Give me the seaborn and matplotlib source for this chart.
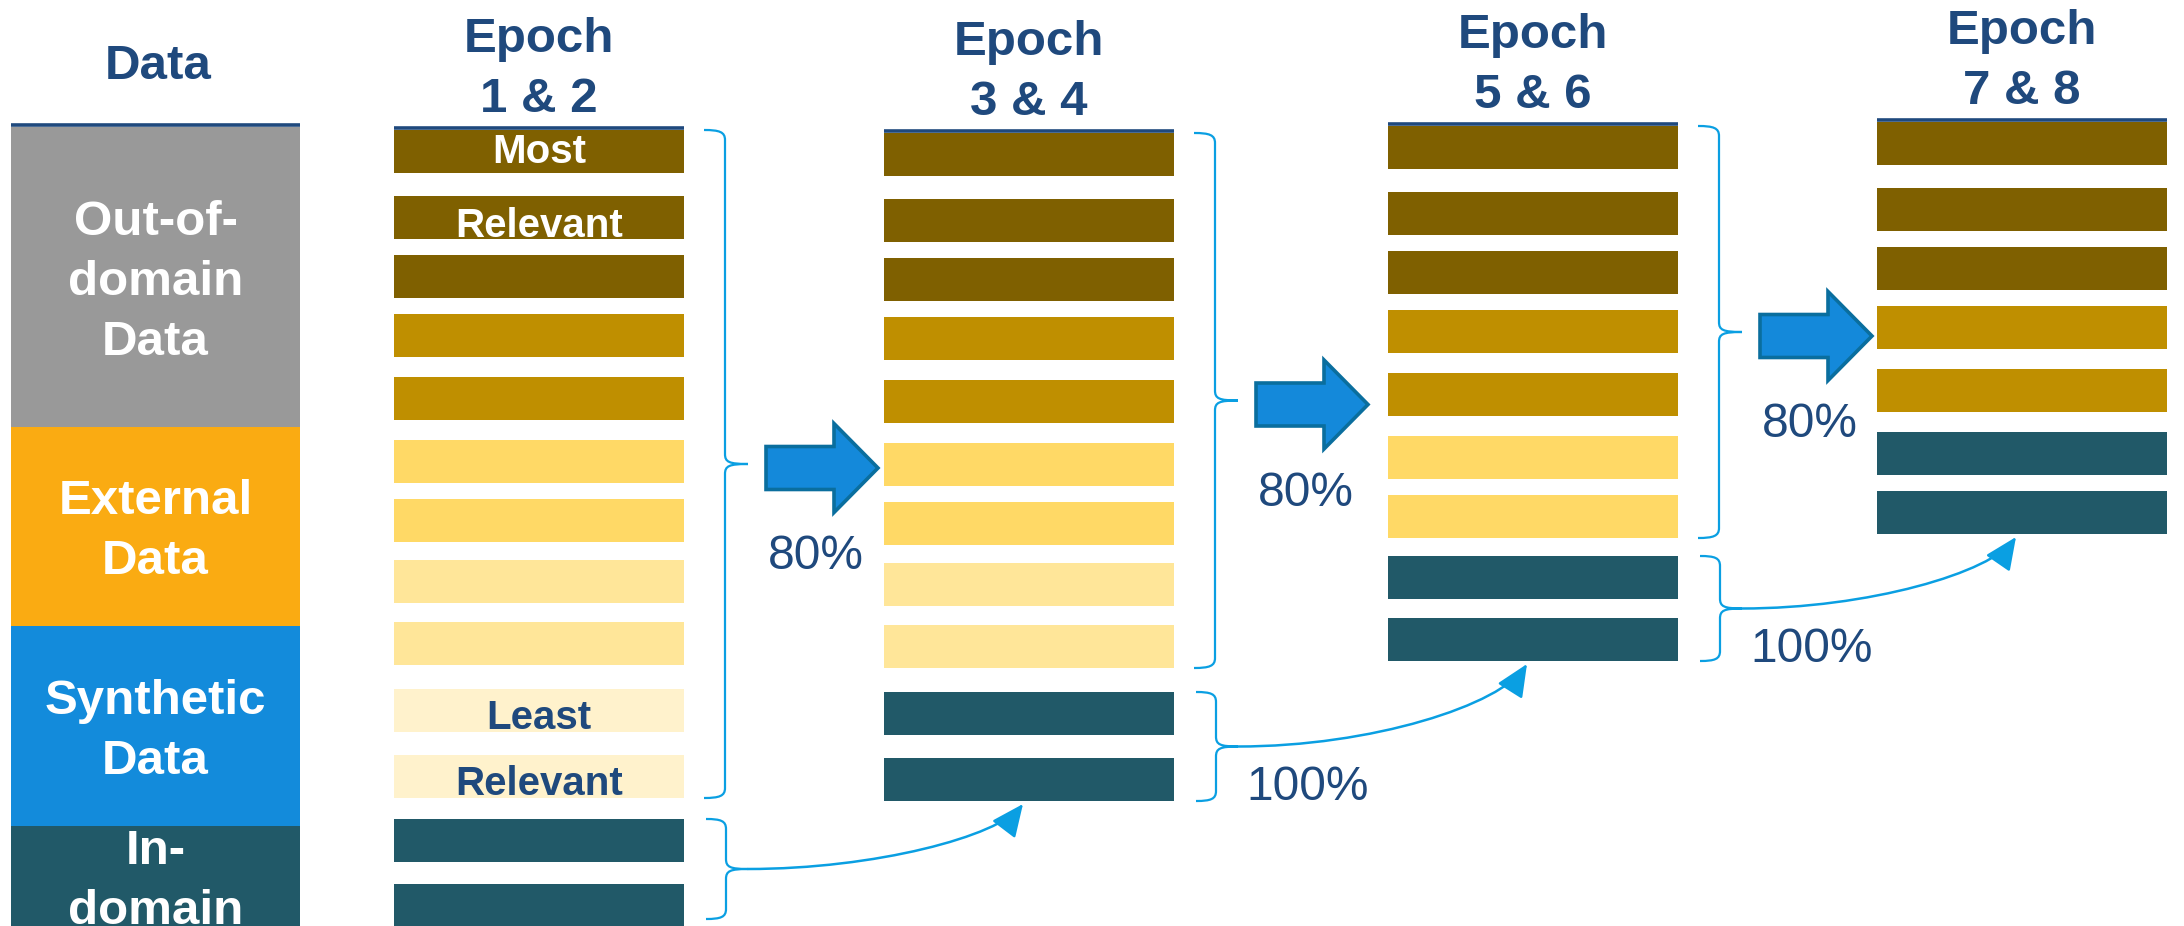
import matplotlib
matplotlib.use("Agg")
import matplotlib.pyplot as plt
import seaborn as sns
from matplotlib.path import Path
from matplotlib.patches import PathPatch, FancyArrowPatch, Polygon

# ---------------- data ----------------
source_names = ["Out-of-\ndomain\nData", "External\nData", "Synthetic\nData", "In-\ndomain"]
source_shares = [3, 2, 2, 1]
source_colors = ["#999999", "#FAAB12", "#138BDB", "#215968"]

# relevance tiers of the training chunks (0 = most relevant ... 4 = least, 5 = in-domain)
tier_colors = ["#7F6000", "#BF8F00", "#FFD966", "#FFE699", "#FFF2CC", "#215968"]

epoch_titles = ["1 & 2", "3 & 4", "5 & 6", "7 & 8"]
epoch_12 = [0, 0, 0, 1, 1, 2, 2, 3, 3, 4, 4, 5, 5]
epoch_34 = [0, 0, 0, 1, 1, 2, 2, 3, 3, 5, 5]
epoch_56 = [0, 0, 0, 1, 1, 2, 2, 5, 5]
epoch_78 = [0, 0, 0, 1, 1, 5, 5]
epoch_chunks = [epoch_12, epoch_34, epoch_56, epoch_78]

chunk_labels = {0: "Most", 1: "Relevant", 9: "Least", 10: "Relevant"}
kept_labels = ["80%", "80%", "80%"]
in_domain_labels = ["100%", "100%"]

# ---------------- layout ----------------
W, H = 2184, 926
NAVY = "#1F497D"
CYAN = "#0A9FE2"
ARROW_FILL = "#1489DA"
ARROW_EDGE = "#0A6E9E"

col_left = [394, 884, 1388, 1877]
col_top = [130, 133, 126, 122]
col_w = 290
bar_h = 43
slot_offsets = [0, 66, 125, 184, 247, 310, 369, 430, 492, 559, 625, 689, 754]
label_baseline = {0: 33, 1: 41, 9: 40, 10: 40}

data_left, data_w, data_top = 11, 289, 127
unit = (H - data_top) / sum(source_shares)
line_pitch = 60
cap_half = 18

sns.set_theme(style="white")
plt.rcParams["font.family"] = ["Liberation Sans", "DejaVu Sans"]
palette = sns.color_palette(tier_colors)

fig = plt.figure(figsize=(W / 100, H / 100), dpi=100)
ax = fig.add_axes([0, 0, 1, 1])
ax.set_xlim(0, W)
ax.set_ylim(H, 0)
ax.axis("off")

# ---- data source column ----
bottoms = [data_top]
for s in source_shares[:-1]:
    bottoms.append(bottoms[-1] + s * unit)
ax.bar([data_left + data_w / 2] * len(source_shares),
       [s * unit for s in source_shares], bottom=bottoms, width=data_w,
       color=source_colors, linewidth=0)
for name, b, s in zip(source_names, bottoms, source_shares):
    lines = name.split("\n")
    mid = b + s * unit / 2
    for i, ln in enumerate(lines):
        yc = mid + (i - (len(lines) - 1) / 2) * line_pitch
        ax.text(data_left + data_w / 2, yc + cap_half, ln, ha="center", va="baseline",
                color="white", fontsize=35.5, fontweight="bold")
ax.text(data_left + data_w / 2 + 3, data_top - 48, "Data", ha="center", va="baseline",
        color=NAVY, fontsize=35.5, fontweight="bold")
ax.plot([data_left, data_left + data_w], [data_top - 2.5] * 2, color=NAVY, lw=2.6,
        solid_capstyle="butt")

# ---- epoch columns ----
for e, chunks in enumerate(epoch_chunks):
    left, top = col_left[e], col_top[e]
    tops = [top + slot_offsets[i] for i in range(len(chunks))]
    ax.barh([t + bar_h / 2 for t in tops], [col_w] * len(chunks), left=left,
            height=bar_h, color=[palette[c] for c in chunks], linewidth=0)
    cx = left + col_w / 2
    ax.text(cx, top - 78, "Epoch", ha="center", va="baseline", color=NAVY,
            fontsize=35.5, fontweight="bold")
    ax.text(cx, top - 18, epoch_titles[e], ha="center", va="baseline", color=NAVY,
            fontsize=35.5, fontweight="bold")
    ax.plot([left, left + col_w], [top - 2.5] * 2, color=NAVY, lw=2.6,
            solid_capstyle="butt")
    if e == 0:
        for slot, txt in chunk_labels.items():
            dark = chunks[slot] in (0, 1, 5)
            ax.text(cx, tops[slot] + label_baseline[slot], txt, ha="center",
                    va="baseline", color="white" if dark else NAVY,
                    fontsize=29, fontweight="bold")


def brace(x0, xt, y0, y1):
    xv = (x0 + xt) / 2 - 1
    ym = (y0 + y1) / 2
    r = 10
    verts = [(x0, y0), ((x0 + xv) / 2 + 5, y0), (xv, y0 + 2), (xv, y0 + r),
             (xv, ym - r),
             (xv, ym - 2), (xv + 4, ym), (xt, ym),
             (xv + 4, ym), (xv, ym + 2), (xv, ym + r),
             (xv, y1 - r),
             (xv, y1 - 2), ((x0 + xv) / 2 + 5, y1), (x0, y1)]
    codes = [Path.MOVETO] + [Path.CURVE4] * 3 + [Path.LINETO] + [Path.CURVE4] * 6 + \
            [Path.LINETO] + [Path.CURVE4] * 3
    ax.add_patch(PathPatch(Path(verts, codes), fill=False, edgecolor=CYAN, lw=1.6))
    return xt, ym


def block_arrow(x0, y, length=112, shaft=43, head_w=89, head_l=44):
    xh = x0 + length - head_l
    pts = [(x0, y - shaft / 2), (xh, y - shaft / 2), (xh, y - head_w / 2),
           (x0 + length, y), (xh, y + head_w / 2), (xh, y + shaft / 2),
           (x0, y + shaft / 2)]
    ax.add_patch(Polygon(pts, closed=True, facecolor=ARROW_FILL, edgecolor=ARROW_EDGE,
                         lw=2.6, joinstyle="miter"))


def curved_arrow(p0, p3):
    dx = p3[0] - p0[0]
    dy = p3[1] - p0[1]
    p1 = (p0[0] + 0.46 * dx, p0[1])
    p2 = (p3[0] - 0.09 * dx, p3[1] - 0.5 * dy)
    path = Path([p0, p1, p2, p3], [Path.MOVETO, Path.CURVE4, Path.CURVE4, Path.CURVE4])
    ax.add_patch(FancyArrowPatch(path=path, arrowstyle="-|>,head_length=1.0,head_width=0.45",
                                 mutation_scale=20, color=CYAN, lw=1.8))


for e in range(len(epoch_chunks) - 1):
    chunks = epoch_chunks[e]
    left, top = col_left[e], col_top[e]
    right = left + col_w
    kept = [i for i, c in enumerate(chunks) if c != 5]
    indom = [i for i, c in enumerate(chunks) if c == 5]
    # ranked chunks carried into the next epoch
    y0 = top + slot_offsets[kept[0]]
    y1 = top + slot_offsets[kept[-1]] + bar_h
    tx, ty = brace(right + 20, right + 64, y0, y1)
    block_arrow(tx + 18, ty + 4)
    ax.text(tx + 18 + 56 - 6, ty + 4 + 101, kept_labels[e], ha="center", va="baseline",
            color=NAVY, fontsize=34.5)
    # in-domain chunks are always kept
    y0 = top + slot_offsets[indom[0]]
    y1 = min(top + slot_offsets[indom[-1]] + bar_h, H - 7)
    tx, ty = brace(right + 22, right + 64, y0, y1)
    nxt = epoch_chunks[e + 1]
    nl, nt = col_left[e + 1], col_top[e + 1]
    target = (nl + col_w / 2 - 6, nt + slot_offsets[len(nxt) - 1] + bar_h + 3)
    curved_arrow((tx, ty), target)
    if e >= 1:
        ax.text(tx + 70, ty + 53, in_domain_labels[e - 1], ha="center", va="baseline",
                color=NAVY, fontsize=34.5)

fig.savefig("out.png", dpi=100)
